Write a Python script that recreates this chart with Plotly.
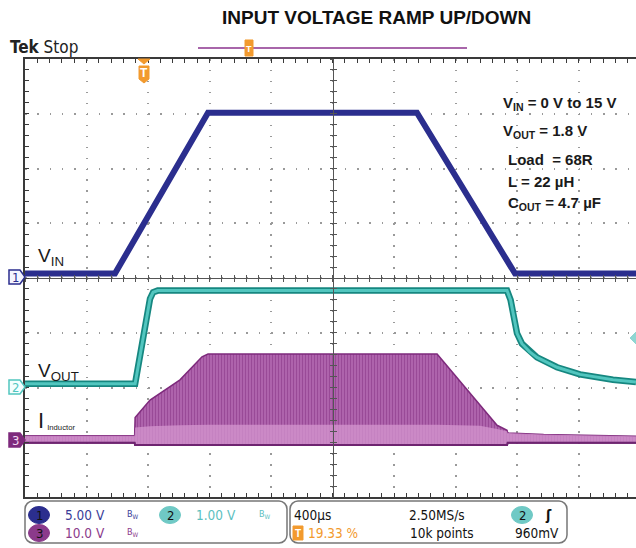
import plotly.graph_objects as go

W, H = 636, 548
ML, MT, MR, MB = 25, 59, 0, 51
PW = W - ML - MR          # 611 px plot width
PH = H - MT - MB          # 438 px plot height
DIV_PX = 61.5             # px per horizontal division

# ---- scope settings ----
T_DIV = 400.0             # us / div
TRIG_PCT = 19.33          # trigger position %
CH1_SCALE, CH1_POS = 5.0, 0.0     # V/div, position (div)
CH2_SCALE, CH2_POS = 1.0, -2.0
CH3_SCALE, CH3_POS = 10.0, -2.95

# ---- data (time in us relative to trigger) ----
vin_t = [-773, -188, 417, 1776, 2414, 3201]
vin_v = [0.4, 0.4, 15.1, 15.1, 0.4, 0.4]

vout_t = [-773, -57, 40, 60, 90, 2362, 2385, 2427, 2459, 2510, 2557, 2687, 2836, 3051, 3201]
vout_v = [0.07, 0.07, 1.62, 1.74, 1.77, 1.77, 1.60, 0.99, 0.80, 0.65, 0.55, 0.37, 0.24, 0.14, 0.10]

ind_t = [-773, -60, -57, 40, 235, 378, 417, 1907, 2186, 2297, 2362, 2366, 2600, 3201]
ind_hi = [0.7, 0.7, 4.0, 7.2, 10.9, 15.1, 15.6, 15.6, 6.3, 2.6, 1.7, 1.2, 0.9, 0.6]
ind_dense = [0.7, 0.7, 2.2, 2.4, 2.6, 2.7, 2.7, 2.7, 2.5, 1.9, 1.5, 1.2, 0.9, 0.6]
ind_lo = [-0.6, -0.6, -1.0, -1.0, -1.0, -1.0, -1.0, -1.0, -1.0, -1.0, -1.0, -0.6, -0.6, -0.6]

t0 = -TRIG_PCT / 100.0 * 10 * T_DIV
t1 = t0 + T_DIV * PW / DIV_PX

NAVY = '#2b2e8e'
TEAL = '#52c6bf'
TEAL_D = '#168780'
PURP = '#7e2a7c'
PINK = '#b56ab2'
ORANGE = '#f29a2e'
COND = 'DejaVu Sans Condensed, Liberation Sans Narrow, Arial Narrow, sans-serif'
ARIAL = 'Liberation Sans, Arial, sans-serif'


def PX(px):
    return (px - ML) / PW


def PY(py):
    return (H - MB - py) / PH


fig = go.Figure()

# channel 3 : inductor current (filled envelope)
lo_y = [v / CH3_SCALE + CH3_POS for v in ind_lo]
fig.add_trace(go.Scatter(x=ind_t, y=lo_y, mode='lines',
                         line=dict(color='#6e2470', width=2), hoverinfo='skip'))
fig.add_trace(go.Scatter(x=ind_t, y=[v / CH3_SCALE + CH3_POS for v in ind_hi], mode='lines',
                         line=dict(color=PURP, width=1.5), fill='tonexty',
                         fillpattern=dict(shape='|', bgcolor=PINK, fgcolor=PURP, size=3, solidity=0.5),
                         hoverinfo='skip'))
fig.add_trace(go.Scatter(x=ind_t, y=lo_y, mode='lines',
                         line=dict(color='#6e2470', width=2), hoverinfo='skip'))
fig.add_trace(go.Scatter(x=ind_t, y=[v / CH3_SCALE + CH3_POS for v in ind_dense], mode='lines',
                         line=dict(color='rgba(0,0,0,0)', width=0), fill='tonexty',
                         fillcolor='rgba(212,150,207,0.75)', hoverinfo='skip'))
# channel 2 : VOUT
vout_y = [v / CH2_SCALE + CH2_POS for v in vout_v]
fig.add_trace(go.Scatter(x=vout_t, y=vout_y, mode='lines', line=dict(color=TEAL_D, width=6.5), hoverinfo='skip'))
fig.add_trace(go.Scatter(x=vout_t, y=vout_y, mode='lines', line=dict(color=TEAL, width=3), hoverinfo='skip'))
# channel 1 : VIN
fig.add_trace(go.Scatter(x=vin_t, y=[v / CH1_SCALE + CH1_POS for v in vin_v], mode='lines',
                         line=dict(color=NAVY, width=6), hoverinfo='skip'))

# dummy traces for the centre cross-hair axes
for xa, ya in [('x2', 'y'), ('x3', 'y'), ('x', 'y2'), ('x', 'y3')]:
    fig.add_trace(go.Scatter(x=[None], y=[None], xaxis=xa, yaxis=ya, showlegend=False, hoverinfo='skip'))

GRID = '#9a9a9a'
axcommon = dict(showticklabels=False, zeroline=False)
fig.update_layout(
    width=W, height=H, margin=dict(l=ML, r=MR, t=MT, b=MB),
    paper_bgcolor='white', plot_bgcolor='white', showlegend=False,
    xaxis=dict(range=[t0, t1], tick0=t0, dtick=T_DIV, showgrid=True, gridcolor=GRID, gridwidth=1.5,
               griddash='1.5px,9.45px', showline=True, linecolor='#3a3a3a', linewidth=2,
               mirror='ticks', ticks='inside', ticklen=4, tickcolor='#3a3a3a',
               minor=dict(ticks='inside', ticklen=4, dtick=T_DIV / 5, tick0=t0, tickcolor='#3a3a3a',
                          showgrid=False), **axcommon),
    yaxis=dict(range=[-4, 4], tick0=-4, dtick=1, showgrid=True, gridcolor=GRID, gridwidth=1.5,
               griddash='1.5px,10.8px', showline=True, linecolor='#3a3a3a', linewidth=2,
               ticks='inside', ticklen=4, tickcolor='#3a3a3a',
               minor=dict(ticks='inside', ticklen=4, dtick=0.2, tick0=-4, tickcolor='#3a3a3a',
                          showgrid=False), **axcommon),
    xaxis2=dict(overlaying='x', anchor='free', position=0.5, range=[t0, t1], tick0=t0, dtick=T_DIV / 5,
                showgrid=False, showline=True, linecolor='#555', linewidth=1, ticks='inside', ticklen=3,
                tickcolor='#555', **axcommon),
    xaxis3=dict(overlaying='x', anchor='free', position=0.5, range=[t0, t1], tick0=t0, dtick=T_DIV / 5,
                showgrid=False, showline=False, ticks='outside', ticklen=3, tickcolor='#555', **axcommon),
    yaxis2=dict(overlaying='y', anchor='free', position=PX(ML + 5 * DIV_PX), range=[-4, 4], tick0=-4,
                dtick=0.2, showgrid=False, showline=True, linecolor='#555', linewidth=1, ticks='inside',
                ticklen=3, tickcolor='#555', **axcommon),
    yaxis3=dict(overlaying='y', anchor='free', position=PX(ML + 5 * DIV_PX), range=[-4, 4], tick0=-4,
                dtick=0.2, showgrid=False, showline=False, ticks='outside', ticklen=3, tickcolor='#555',
                **axcommon),
)

shapes = []
ann = []


def text(px, py, s, size, color='#111', family=ARIAL, xanchor='left', yanchor='middle'):
    ann.append(dict(x=PX(px), y=PY(py), xref='paper', yref='paper', text=s, showarrow=False,
                    xanchor=xanchor, yanchor=yanchor, font=dict(size=size, color=color, family=family)))


def path(points, fill, line=None, lw=1):
    d = 'M ' + ' L '.join(f'{PX(a):.5f},{PY(b):.5f}' for a, b in points) + ' Z'
    shapes.append(dict(type='path', xref='paper', yref='paper', path=d, fillcolor=fill,
                       line=dict(color=line or fill, width=lw)))


def rounded(x0, y0, x1, y1, r, color):
    k = 0.45
    pts = (f'M {PX(x0 + r)},{PY(y0)} L {PX(x1 - r)},{PY(y0)} '
           f'C {PX(x1 - r * k)},{PY(y0)} {PX(x1)},{PY(y0 + r * k)} {PX(x1)},{PY(y0 + r)} '
           f'L {PX(x1)},{PY(y1 - r)} '
           f'C {PX(x1)},{PY(y1 - r * k)} {PX(x1 - r * k)},{PY(y1)} {PX(x1 - r)},{PY(y1)} '
           f'L {PX(x0 + r)},{PY(y1)} '
           f'C {PX(x0 + r * k)},{PY(y1)} {PX(x0)},{PY(y1 - r * k)} {PX(x0)},{PY(y1 - r)} '
           f'L {PX(x0)},{PY(y0 + r)} '
           f'C {PX(x0)},{PY(y0 + r * k)} {PX(x0 + r * k)},{PY(y0)} {PX(x0 + r)},{PY(y0)} Z')
    shapes.append(dict(type='path', xref='paper', yref='paper', path=pts,
                       line=dict(color=color, width=1.5), fillcolor='rgba(0,0,0,0)'))


def circle(cx, cy, rx, ry, fill):
    shapes.append(dict(type='circle', xref='paper', yref='paper', x0=PX(cx - rx), x1=PX(cx + rx),
                       y0=PY(cy + ry), y1=PY(cy - ry), fillcolor=fill, line=dict(color=fill, width=1)))


# title + header
text(376, 17, '<b>INPUT VOLTAGE RAMP UP/DOWN</b>', 19, '#111', ARIAL, 'center')
text(8, 47, '<b>Tek</b> Stop', 17, '#222', COND)
shapes.append(dict(type='line', xref='paper', yref='paper', x0=PX(198), x1=PX(467), y0=PY(48), y1=PY(48),
                   line=dict(color='#a866aa', width=2)))
path([(245, 40), (253, 40), (253, 56), (245, 56)], ORANGE)
text(249, 49, '<b>T</b>', 9, 'white', ARIAL, 'center')

# trigger position marker
path([(138, 59), (150, 59), (144, 64)], ORANGE)
path([(139, 66), (149, 66), (149, 79), (144, 83), (139, 79)], ORANGE)
text(144, 73, '<b>T</b>', 12, 'white', ARIAL, 'center')

# channel ground markers
path([(9, 270), (20, 270), (25, 277), (20, 284), (9, 284)], '#f4f4ff', NAVY, 1.5)
text(15, 277, '1', 13, NAVY, COND, 'center')
path([(9, 380), (20, 380), (25, 387), (20, 394), (9, 394)], '#f4ffff', TEAL, 1.5)
text(15, 387, '2', 13, TEAL, COND, 'center')
path([(9, 433), (20, 433), (25, 440), (20, 447), (9, 447)], PURP, PURP, 1.5)
text(15, 440, '3', 13, '#f3d9f2', COND, 'center')

# trigger level marker (right)
path([(637, 331), (630, 338), (637, 345)], '#8fd6d2')

# trace labels
text(36, 257, 'V<sub>IN</sub>', 19, '#1a1a1a', ARIAL)
text(36, 372, 'V<sub>OUT</sub>', 19, '#1a1a1a', ARIAL)
text(36, 420, 'I<span style="font-size:11px"> <sub>Inductor</sub></span>', 22, '#1a1a1a', ARIAL)

# conditions block
text(501, 104, '<b>V<sub>IN</sub> = 0 V to 15 V</b>', 15, '#1a1a1a', ARIAL)
text(501, 131, '<b>V<sub>OUT</sub> = 1.8 V</b>', 15, '#1a1a1a', ARIAL)
text(506, 159, '<b>Load  = 68R</b>', 15, '#1a1a1a', ARIAL)
text(506, 181, '<b>L = 22 µH</b>', 15, '#1a1a1a', ARIAL)
text(506, 203, '<b>C<sub>OUT</sub> = 4.7 µF</b>', 15, '#1a1a1a', ARIAL)

# status bar
rounded(25, 501, 287, 543, 8, '#777')
rounded(290, 501, 567, 543, 8, '#777')
C1T, C2T, C3T = '#3a3d98', '#5cbfbf', '#8b3a8b'
SF = 13.5
circle(39, 515, 10.5, 8.5, NAVY)
text(39, 515, '1', 13, '#111', COND, 'center')
text(63, 515, '5.00 V', SF, C1T, COND)
text(125, 514, 'B<sub>W</sub>', 9, C1T, COND)
circle(170, 515, 10.5, 8.5, '#6fc9c5')
text(170, 515, '2', 13, '#111', COND, 'center')
text(194, 515, '1.00 V', SF, C2T, COND)
text(257, 514, 'B<sub>W</sub>', 9, C2T, COND)
circle(39, 533, 10.5, 8.5, C3T)
text(39, 533, '3', 13, '#111', COND, 'center')
text(63, 533, '10.0 V', SF, C3T, COND)
text(125, 532, 'B<sub>W</sub>', 9, C3T, COND)

text(292, 515, '400µs', SF, '#111', COND)
text(407, 515, '2.50MS/s', SF, '#111', COND)
circle(522, 515, 10.5, 8.5, '#6fc9c5')
text(522, 515, '2', 13, '#111', COND, 'center')
text(548, 515, '<b>ʃ</b>', 14, '#111', COND, 'center')
path([(293, 526), (303, 526), (303, 540), (293, 540)], ORANGE)
text(298, 533, '<b>T</b>', 10, 'white', ARIAL, 'center')
text(306, 533, '19.33 %', SF, ORANGE, COND)
text(408, 533, '10k points', SF, '#111', COND)
text(513, 533, '960mV', SF, '#111', COND)

fig.update_layout(shapes=shapes, annotations=ann)
fig.write_html('out.html', config={'displayModeBar': False},
               post_script="document.body.style.margin='0';document.body.style.overflow='hidden';")
